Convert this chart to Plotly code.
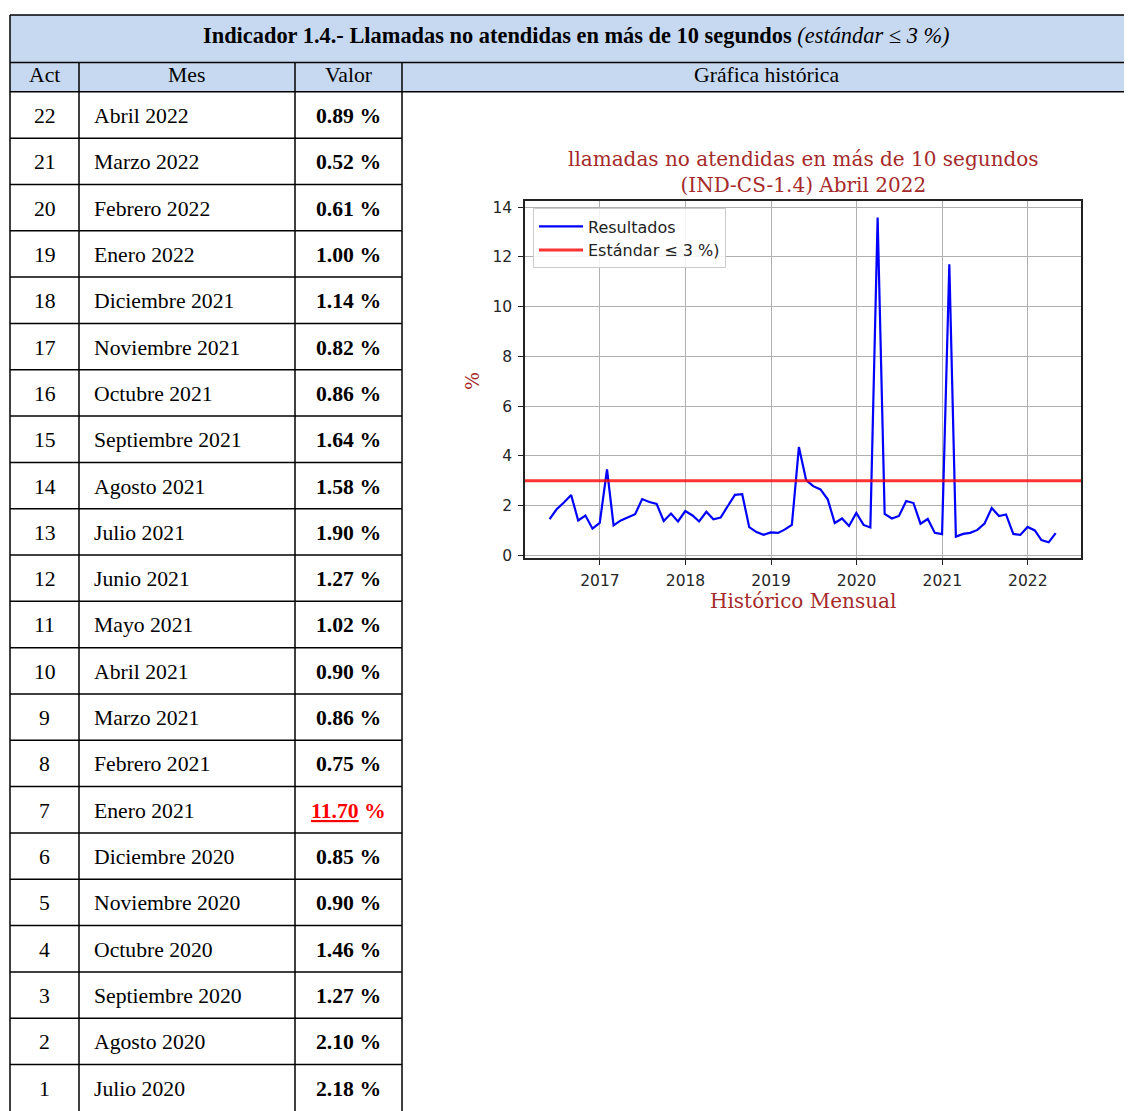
import pandas as pd
import plotly.graph_objects as go

W, H = 1132, 1111
OX, OY = 8, 8          # page body margin of the html page
FW, FH = W - OX, H - OY

# ---------------- data ----------------
act = [22, 21, 20, 19, 18, 17, 16, 15, 14, 13, 12, 11, 10, 9, 8, 7, 6, 5, 4, 3, 2, 1]
meses = ["Abril 2022", "Marzo 2022", "Febrero 2022", "Enero 2022", "Diciembre 2021",
         "Noviembre 2021", "Octubre 2021", "Septiembre 2021", "Agosto 2021", "Julio 2021",
         "Junio 2021", "Mayo 2021", "Abril 2021", "Marzo 2021", "Febrero 2021", "Enero 2021",
         "Diciembre 2020", "Noviembre 2020", "Octubre 2020", "Septiembre 2020",
         "Agosto 2020", "Julio 2020"]
valores = [0.89, 0.52, 0.61, 1.00, 1.14, 0.82, 0.86, 1.64, 1.58, 1.90, 1.27, 1.02,
           0.90, 0.86, 0.75, 11.70, 0.85, 0.90, 1.46, 1.27, 2.10, 2.18]

# monthly history May 2016 .. Jun 2020
historico_previo = [1.45, 1.85, 2.12, 2.42, 1.40, 1.60, 1.07, 1.30,          # 2016
                    3.45, 1.20, 1.40, 1.52, 1.65, 2.26, 2.14, 2.06, 1.38, 1.68, 1.36, 1.78,  # 2017
                    1.60, 1.36, 1.75, 1.45, 1.52, 1.97, 2.43, 2.46, 1.13, 0.93, 0.82, 0.92,  # 2018
                    0.90, 1.03, 1.22, 4.35, 3.02, 2.78, 2.65, 2.25, 1.30, 1.48, 1.18, 1.70,  # 2019
                    1.22, 1.12, 13.58, 1.66, 1.48, 1.58]                                     # 2020
STANDARD = 3
x_tick_years = ["2017", "2018", "2019", "2020", "2021", "2022"]
y_ticks = [0, 2, 4, 6, 8, 10, 12, 14]

serie = historico_previo + valores[::-1]
fechas = (pd.date_range("2016-06-01", periods=len(serie), freq="MS")
          - pd.Timedelta(days=1)).strftime("%Y-%m-%d").tolist()
x_range = ["2016-02-16", "2022-08-16"]
y_range = [-0.13, 14.23]

# ---------------- helpers ----------------
def X(px):
    return (px - OX) / FW


def Y(py):
    return 1 - (py - OY) / FH


SERIF = "Liberation Serif"
TXT = 21.7
BROWN = "#a52a2a"
HEAD_BG = "#c6d9f1"

shapes = []
annotations = []


def hline(x0, x1, y, w=1.5):
    shapes.append(dict(type="line", xref="paper", yref="paper", x0=X(x0), x1=X(x1),
                       y0=Y(y), y1=Y(y), line=dict(color="black", width=w)))


def vline(x, y0, y1, w=1.5):
    shapes.append(dict(type="line", xref="paper", yref="paper", x0=X(x), x1=X(x),
                       y0=Y(y0), y1=Y(y1), line=dict(color="black", width=w)))


def text(x, y, s, size=TXT, color="black", xanchor="center", family=SERIF, angle=0):
    annotations.append(dict(xref="paper", yref="paper", x=X(x), y=Y(y), text=s,
                            showarrow=False, xanchor=xanchor, yanchor="middle",
                            textangle=angle,
                            font=dict(family=family, size=size, color=color)))


# ---------------- table geometry ----------------
L, C1, C2, C3, R = 10, 79, 295, 402, 1130.5
T, HR1, HR2 = 12, 60, 89.5
ROW = 46.7

shapes.append(dict(type="rect", xref="paper", yref="paper", x0=X(L), x1=X(R),
                   y0=Y(HR2), y1=Y(T), fillcolor=HEAD_BG, line=dict(width=0),
                   layer="below"))
hline(L, R, T)
hline(L, R, HR1)
hline(L, R, HR2)
for k in range(1, len(act)):
    hline(L, C3, HR2 + ROW * k)
vline(L, T, H + 10)
vline(R, T, H + 10)
for cx in (C1, C2, C3):
    vline(cx, HR1, H + 10)

# header texts
text((L + R) / 2 + 6, 33,
     "<b>Indicador 1.4.- Llamadas no atendidas en más de 10 segundos</b> "
     "<i>(estándar ≤ 3 %)</i>", size=22.4)
text((L + C1) / 2, 72.5, "Act")
text((C1 + C2) / 2, 72.5, "Mes")
text((C2 + C3) / 2, 72.5, "Valor")
text((C3 + R) / 2, 72.5, "Gráfica histórica")

for k, (a, m, v) in enumerate(zip(act, meses, valores)):
    yc = HR2 + ROW * (k + 0.5) + 1
    text((L + C1) / 2, yc, str(a))
    text(C1 + 13, yc, m, xanchor="left")
    if v > STANDARD:
        text((C2 + C3) / 2, yc, f"<b><u>{v:.2f}</u> %</b>", color="#ff0000")
    else:
        text((C2 + C3) / 2, yc, f"<b>{v:.2f} %</b>")

# ---------------- chart ----------------
AX_L, AX_R, AX_T, AX_B = 525, 1081, 200, 560
CHART_SERIF = "DejaVu Serif"
SANS = "DejaVu Sans"

fig = go.Figure()
fig.add_trace(go.Scatter(x=fechas, y=serie, mode="lines", name="Resultados",
                         line=dict(color="#0000ff", width=2.2)))
fig.add_trace(go.Scatter(x=x_range, y=[STANDARD, STANDARD], mode="lines",
                         name="Estándar ≤ 3 %)",
                         line=dict(color="rgba(255,0,0,0.8)", width=3)))

text((AX_L + AX_R) / 2, 170,
     "llamadas no atendidas en más de 10 segundos<br>(IND-CS-1.4) Abril 2022",
     size=20, color=BROWN, family=CHART_SERIF)
text((AX_L + AX_R) / 2, 603, "Histórico Mensual", size=20, color=BROWN,
     family=CHART_SERIF)
text(472, 381, "%", size=19, color=BROWN, family=CHART_SERIF, angle=-90)

tick_font = dict(family=SANS, size=15.5, color="#262626")
fig.update_layout(
    width=FW, height=FH, autosize=False,
    margin=dict(l=0, r=0, t=0, b=0),
    paper_bgcolor="white", plot_bgcolor="white",
    shapes=shapes, annotations=annotations,
    showlegend=True,
    legend=dict(x=X(533), y=Y(207), xanchor="left", yanchor="top",
                bgcolor="rgba(255,255,255,0.85)", bordercolor="#cccccc",
                borderwidth=1, font=dict(family=SANS, size=16, color="#222222"),
                itemwidth=44, tracegroupgap=0),
    xaxis=dict(domain=[X(AX_L), X(AX_R)], type="date", range=x_range,
               tickmode="array", tickvals=[f"{y}-01-01" for y in x_tick_years],
               ticktext=x_tick_years,
               showgrid=True, gridcolor="#b0b0b0", gridwidth=1,
               showline=True, mirror=True, linecolor="#222222", linewidth=1.5,
               ticks="outside", ticklen=5, tickcolor="#222222",
               ticklabelstandoff=2,
               tickfont=tick_font, zeroline=False, anchor="y"),
    yaxis=dict(domain=[Y(AX_B), Y(AX_T)], range=y_range,
               tickmode="array", tickvals=y_ticks,
               showgrid=True, gridcolor="#b0b0b0", gridwidth=1,
               showline=True, mirror=True, linecolor="#222222", linewidth=1.5,
               ticks="outside", ticklen=5, tickcolor="#222222",
               ticklabelstandoff=3,
               tickfont=tick_font, zeroline=False, anchor="x"),
)

fig.write_html("out.html")
